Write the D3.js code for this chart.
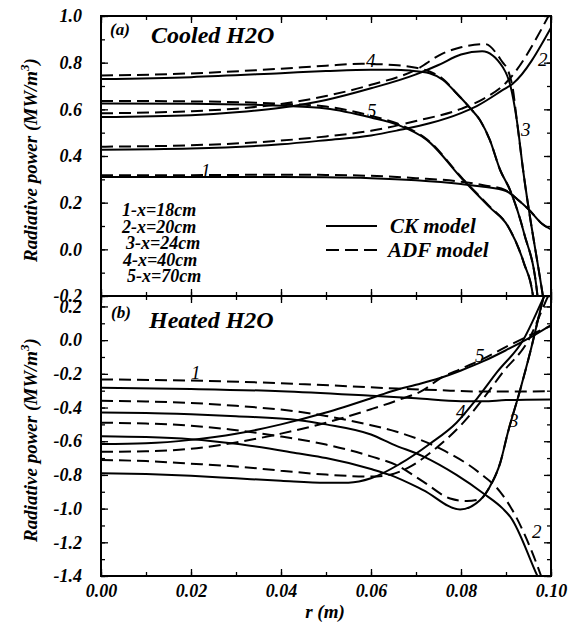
<!DOCTYPE html>
<html>
<head>
<meta charset="utf-8">
<script src="https://cdn.jsdelivr.net/npm/d3@7"></script>
<style>
  body { margin: 0; background: #fff; }
  .curve { fill: none; stroke: #000; stroke-width: 2; }
  .dash { stroke-dasharray: 12,6; }
  .frame { fill: none; stroke: #000; stroke-width: 2; }
  .tick line { stroke: #000; stroke-width: 1.3; }
</style>
</head>
<body>
<div id="chart"></div>
<script>
// ---- data: [r (m), radiative power (MW/m3)] ----
// (a) Cooled H2O
var aCK1 = [[0,0.31],[0.02,0.31],[0.04,0.31],[0.05,0.309],[0.06,0.305],[0.07,0.296],[0.08,0.28],[0.085,0.268],[0.09,0.25],[0.0925,0.215],[0.095,0.172],[0.098,0.11],[0.1,0.085]];
var aADF1 = [[0,0.318],[0.02,0.318],[0.04,0.32],[0.05,0.319],[0.06,0.315],[0.07,0.305],[0.08,0.29],[0.085,0.275],[0.09,0.253],[0.0925,0.215],[0.095,0.172],[0.098,0.11],[0.1,0.085]];
var aCK2 = [[0,0.427],[0.02,0.432],[0.04,0.45],[0.05,0.468],[0.06,0.488],[0.066,0.51],[0.073,0.54],[0.08,0.584],[0.0835,0.614],[0.0893,0.683],[0.0915,0.71],[0.1,0.95]];
var aADF2 = [[0,0.44],[0.02,0.446],[0.04,0.466],[0.05,0.484],[0.06,0.508],[0.07,0.55],[0.08,0.602],[0.085,0.645],[0.09,0.714],[0.1,1.02]];
var aCK3 = [[0,0.567],[0.02,0.575],[0.03,0.587],[0.04,0.607],[0.05,0.64],[0.06,0.69],[0.07,0.75],[0.075,0.79],[0.08,0.835],[0.0847,0.849],[0.0893,0.78],[0.091,0.70],[0.0924,0.554],[0.0938,0.34],[0.0982,-0.2],[0.099,-0.3]];
var aADF3 = [[0,0.583],[0.02,0.592],[0.03,0.603],[0.04,0.623],[0.05,0.657],[0.06,0.705],[0.07,0.77],[0.076,0.84],[0.08,0.866],[0.0853,0.88],[0.0893,0.8],[0.0905,0.765],[0.0915,0.69],[0.0924,0.554],[0.0938,0.34],[0.0982,-0.2],[0.099,-0.3]];
var aCK4 = [[0,0.73],[0.02,0.738],[0.04,0.755],[0.05,0.764],[0.06,0.77],[0.065,0.77],[0.0687,0.766],[0.073,0.755],[0.076,0.726],[0.079,0.669],[0.082,0.606],[0.0842,0.554],[0.0864,0.469],[0.0887,0.34],[0.0909,0.254],[0.094,0.07],[0.097,-0.2],[0.0975,-0.3]];
var aADF4 = [[0,0.745],[0.02,0.754],[0.04,0.774],[0.05,0.787],[0.058,0.795],[0.065,0.79],[0.07,0.778],[0.073,0.762],[0.076,0.73],[0.079,0.669],[0.082,0.606],[0.0842,0.554],[0.0864,0.469],[0.0887,0.34],[0.0909,0.254],[0.094,0.07],[0.097,-0.2],[0.0975,-0.3]];
var aCK5 = [[0,0.625],[0.02,0.624],[0.04,0.615],[0.05,0.604],[0.06,0.565],[0.066,0.533],[0.0724,0.469],[0.0805,0.297],[0.0864,0.18],[0.0904,0.1],[0.094,-0.06],[0.096,-0.2],[0.0965,-0.3]];
var aADF5 = [[0,0.636],[0.02,0.634],[0.04,0.624],[0.05,0.612],[0.06,0.572],[0.066,0.538],[0.0724,0.472],[0.0805,0.3],[0.0864,0.183],[0.0904,0.1],[0.094,-0.06],[0.096,-0.2],[0.0965,-0.3]];

// (b) Heated H2O
var bCK1 = [[0,-0.283],[0.02,-0.29],[0.04,-0.303],[0.06,-0.33],[0.07,-0.345],[0.08,-0.362],[0.085,-0.363],[0.09,-0.356],[0.1,-0.352]];
var bADF1 = [[0,-0.233],[0.02,-0.24],[0.044,-0.26],[0.0657,-0.287],[0.075,-0.297],[0.085,-0.305],[0.09,-0.305],[0.1,-0.303]];
var bCK2 = [[0,-0.43],[0.01,-0.432],[0.02,-0.44],[0.03,-0.452],[0.044,-0.475],[0.05,-0.5],[0.06,-0.56],[0.065,-0.62],[0.0716,-0.69],[0.079,-0.8],[0.085,-0.91],[0.0893,-1.0],[0.091,-1.05],[0.0969,-1.395],[0.0975,-1.43]];
var bADF2 = [[0,-0.36],[0.01,-0.364],[0.02,-0.373],[0.03,-0.39],[0.044,-0.425],[0.05,-0.45],[0.06,-0.505],[0.0657,-0.544],[0.0753,-0.643],[0.0842,-0.79],[0.0887,-0.9],[0.091,-0.99],[0.0976,-1.385],[0.0982,-1.43]];
var bCK3 = [[0,-0.57],[0.01,-0.575],[0.02,-0.588],[0.03,-0.615],[0.044,-0.673],[0.05,-0.7],[0.06,-0.765],[0.0642,-0.8],[0.0716,-0.89],[0.0798,-1.005],[0.0842,-0.95],[0.0864,-0.87],[0.0887,-0.73],[0.0904,-0.55],[0.0931,-0.3],[0.0953,-0.08],[0.0982,0.24],[0.099,0.32]];
var bADF3 = [[0,-0.49],[0.01,-0.495],[0.02,-0.508],[0.0287,-0.53],[0.04,-0.572],[0.05,-0.62],[0.06,-0.69],[0.0657,-0.742],[0.0716,-0.84],[0.0776,-0.94],[0.0813,-0.955],[0.0842,-0.945],[0.0864,-0.87],[0.0887,-0.73],[0.0904,-0.55],[0.0931,-0.3],[0.0953,-0.08],[0.0982,0.24],[0.099,0.32]];
var bCK4 = [[0,-0.79],[0.01,-0.795],[0.02,-0.805],[0.03,-0.82],[0.04,-0.835],[0.05,-0.847],[0.055,-0.846],[0.06,-0.82],[0.0664,-0.735],[0.0731,-0.615],[0.079,-0.49],[0.0836,-0.345],[0.088,-0.19],[0.0938,0.0],[0.0985,0.26],[0.1,0.34]];
var bADF4 = [[0,-0.712],[0.01,-0.718],[0.02,-0.733],[0.03,-0.75],[0.04,-0.775],[0.05,-0.798],[0.06,-0.81],[0.064,-0.8],[0.0684,-0.755],[0.0745,-0.64],[0.0805,-0.49],[0.085,-0.345],[0.0893,-0.19],[0.095,0.0],[0.099,0.24],[0.1,0.3]];
var bCK5 = [[0,-0.617],[0.01,-0.612],[0.02,-0.592],[0.03,-0.556],[0.04,-0.5],[0.05,-0.43],[0.06,-0.345],[0.065,-0.3],[0.07,-0.265],[0.075,-0.228],[0.08,-0.18],[0.085,-0.125],[0.09,-0.06],[0.095,0.01],[0.1,0.09]];
var bADF5 = [[0,-0.663],[0.01,-0.66],[0.02,-0.645],[0.03,-0.607],[0.04,-0.555],[0.05,-0.49],[0.06,-0.41],[0.066,-0.356],[0.0716,-0.297],[0.0753,-0.228],[0.08,-0.17],[0.085,-0.11],[0.09,-0.04],[0.095,0.025],[0.1,0.085]];

var xTicks = [0, 0.02, 0.04, 0.06, 0.08, 0.1];
var yTicksA = [-0.2, 0, 0.2, 0.4, 0.6, 0.8, 1.0];
var yTicksB = [-1.4, -1.2, -1.0, -0.8, -0.6, -0.4, -0.2, 0, 0.2];
var caseLabels = ["1-x=18cm", "2-x=20cm", "3-x=24cm", "4-x=40cm", "5-x=70cm"];

var SERIF = "'Liberation Serif', 'Times New Roman', Times, serif";
var W = 584, H = 629;
var svg = d3.select("#chart").append("svg").attr("width", W).attr("height", H)
  .attr("font-family", SERIF);

var x = d3.scaleLinear().domain([0, 0.1]).range([101, 551]);
var yA = d3.scaleLinear().domain([-0.2, 1.0]).range([296, 16]);
var yB = d3.scaleLinear().domain([-1.4, 0.262]).range([576, 296]);

var fmtY = function(d){ return d3.format(".1f")(d).replace("\u2212", "-"); };
var fmtX = function(d){ return d3.format(".2f")(d); };

function panel(y, top, bottom, yTicks, minorY, id, xLabels) {
  svg.append("clipPath").attr("id", id)
    .append("rect").attr("x", x(0)).attr("y", top).attr("width", x(0.1) - x(0)).attr("height", bottom - top);

  svg.append("g").attr("transform", "translate(" + x(0) + ",0)")
    .call(d3.axisLeft(y).tickValues(minorY).tickSize(-4).tickFormat(""));
  svg.append("g").attr("transform", "translate(" + x(0) + ",0)")
    .call(d3.axisLeft(y).tickValues(yTicks).tickSize(-7).tickPadding(19).tickFormat(fmtY));
  svg.append("g").attr("transform", "translate(" + x(0.1) + ",0)")
    .call(d3.axisRight(y).tickValues(minorY).tickSize(-4).tickFormat(""));
  svg.append("g").attr("transform", "translate(" + x(0.1) + ",0)")
    .call(d3.axisRight(y).tickValues(yTicks).tickSize(-7).tickFormat(""));
  var minorX = d3.range(0, 11).map(function(i){ return i / 100; });
  svg.append("g").attr("transform", "translate(0," + top + ")")
    .call(d3.axisTop(x).tickValues(minorX).tickSize(-4).tickFormat(""));
  svg.append("g").attr("transform", "translate(0," + top + ")")
    .call(d3.axisTop(x).tickValues(xTicks).tickSize(-7).tickFormat(""));
  svg.append("g").attr("transform", "translate(0," + bottom + ")")
    .call(d3.axisBottom(x).tickValues(minorX).tickSize(-4).tickFormat(""));
  svg.append("g").attr("transform", "translate(0," + bottom + ")")
    .call(d3.axisBottom(x).tickValues(xTicks).tickSize(-7).tickPadding(8).tickFormat(xLabels ? fmtX : ""));
  svg.selectAll(".domain").remove();

  svg.append("rect").attr("class", "frame")
    .attr("x", x(0)).attr("y", top).attr("width", x(0.1) - x(0)).attr("height", bottom - top);

  return svg.append("g").attr("clip-path", "url(#" + id + ")");
}

var minorA = d3.range(-2, 11).map(function(i){ return i / 10; });
var minorB = d3.range(-14, 3).map(function(i){ return i / 10; });

var gA = panel(yA, 16, 296, yTicksA, minorA, "clipA", false);
var gB = panel(yB, 296, 576, yTicksB, minorB, "clipB", true);

// bold italic serif for all axis numbers
svg.selectAll("g").attr("font-family", SERIF);
svg.selectAll(".tick text")
  .attr("font-family", SERIF)
  .attr("font-weight", "bold")
  .attr("font-style", "italic")
  .attr("font-size", 18)
  .attr("fill", "#000");

function draw(g, y, series, dashed) {
  var line = d3.line().x(function(d){ return x(d[0]); }).y(function(d){ return y(d[1]); })
    .curve(d3.curveMonotoneX);
  series.forEach(function(s){
    g.append("path").attr("class", "curve" + (dashed ? " dash" : "")).attr("d", line(s));
  });
}
draw(gA, yA, [aCK1, aCK2, aCK3, aCK4, aCK5], false);
draw(gA, yA, [aADF1, aADF2, aADF3, aADF4, aADF5], true);
draw(gB, yB, [bCK1, bCK2, bCK3, bCK4, bCK5], false);
draw(gB, yB, [bADF1, bADF2, bADF3, bADF4, bADF5], true);

function txt(xp, yp, s, size, bold, anchor) {
  return svg.append("text").attr("x", xp).attr("y", yp)
    .attr("font-family", SERIF)
    .attr("font-weight", bold ? "bold" : "normal")
    .attr("font-style", "italic")
    .attr("font-size", size)
    .attr("text-anchor", anchor || "start").text(s);
}
// panel titles
txt(110, 35, "(a)", 17, true);
txt(151, 43, "Cooled H2O", 24, true);
txt(111, 318, "(b)", 17, true);
txt(149, 328, "Heated H2O", 24, true);

// case list
var caseX = [122, 122, 126, 123, 127];
caseLabels.forEach(function(s, i){
  txt(caseX[i], 216 + i * 16.6, s, 18, true);
});

// model legend
svg.append("line").attr("class", "curve").attr("x1", 326).attr("x2", 377).attr("y1", 226).attr("y2", 226);
svg.append("line").attr("class", "curve").attr("x1", 326).attr("x2", 377).attr("y1", 250).attr("y2", 250)
  .style("stroke-dasharray", "13,6");
txt(390, 233, "CK model", 21, true);
txt(388, 257, "ADF model", 21, true);

// curve numbers
[[201, 177, "1"], [538, 66, "2"], [521, 136, "3"], [366, 67, "4"], [367, 117, "5"],
 [191, 379, "1"], [532, 538, "2"], [509, 427, "3"], [456, 418, "4"], [475, 362, "5"]].forEach(function(d){
  txt(d[0], d[1], d[2], 19, false);
});

// axis titles
txt(325, 618, "r (m)", 19, true, "middle");
function ytitle(cy) {
  var t = svg.append("text").attr("text-anchor", "middle")
    .attr("font-family", SERIF).attr("font-weight", "bold").attr("font-style", "italic")
    .attr("font-size", 19)
    .attr("transform", "translate(37," + cy + ") rotate(-90)");
  t.append("tspan").text("Radiative power (MW/m");
  t.append("tspan").attr("dy", -8).attr("font-size", 13).text("3");
  t.append("tspan").attr("dy", 8).text(")");
}
ytitle(160);
ytitle(440);
</script>
</body>
</html>
